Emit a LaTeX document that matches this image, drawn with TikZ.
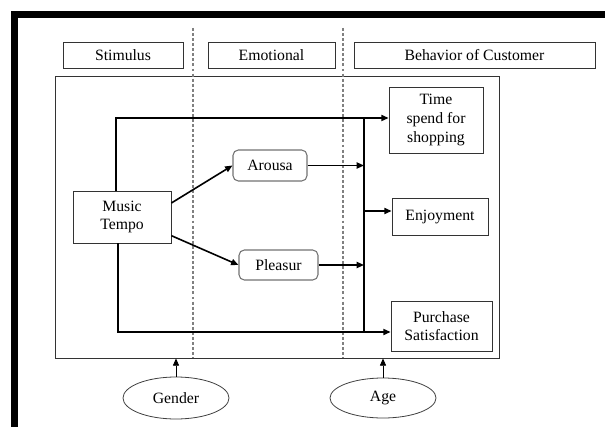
\documentclass[tikz,border=0pt]{standalone}
\usepackage{fontspec}
\setmainfont{Liberation Serif}
\usetikzlibrary{arrows.meta,shapes.geometric,calc}
\begin{document}
\begin{tikzpicture}[x=0.75pt,y=-0.75pt,
  font=\fontsize{11.8}{14}\selectfont,
  hbox/.style={draw=black!80,line width=0.6pt,rectangle,inner sep=0pt,align=center},
  rbox/.style={draw=black!55,line width=0.8pt,rectangle,rounded corners=4pt,inner sep=0pt,align=center},
  oval/.style={draw=black!75,line width=0.6pt,ellipse,inner sep=0pt},
  conn/.style={line width=1.2pt,black},
  arr/.style={conn,-{Triangle[length=5.5pt,width=4.6pt]}},
  thinarr/.style={line width=0.7pt,-{Triangle[length=5.5pt,width=4.6pt]}},
  sep/.style={draw=black!50,line width=0.8pt,dash pattern=on 2.2pt off 1.6pt}]
\useasboundingbox (0,0) rectangle (605,427);
\fill[white] (0,0) rectangle (605,427);
% outer thick border (top and left)
\fill[black] (11,11) rectangle (605,18);
\fill[black] (11,11) rectangle (18,427);
% header boxes
\node[hbox,minimum width=120*0.75pt,minimum height=26*0.75pt] (stim) at (123,55) {Stimulus};
\node[hbox,minimum width=127*0.75pt,minimum height=26*0.75pt] (emo) at (271.5,55) {Emotional};
\node[hbox,minimum width=241*0.75pt,minimum height=26*0.75pt] (beh) at (474.5,55) {Behavior of Customer};
% frame
\node[draw=black!80,line width=0.6pt,rectangle,minimum width=444*0.75pt,minimum height=282*0.75pt] (frame) at (277,217) {};
% dashed separators
\coordinate (d1t) at (193,28);
\coordinate (d1b) at (193,358);
\coordinate (d2t) at (343,28);
\coordinate (d2b) at (343,358);
\draw[sep] (d1t) -- (d1b);
\draw[sep] (d2t) -- (d2b);
% nodes
\node[hbox,fill=white,minimum width=98*0.75pt,minimum height=52*0.75pt] (music) at (122,217) {Music\\Tempo};
\node[rbox,fill=white,minimum width=74*0.75pt,minimum height=31*0.75pt] (arousa) at (270,165.5) {Arousa};
\node[rbox,fill=white,minimum width=79*0.75pt,minimum height=30*0.75pt] (pleasur) at (278.5,265) {Pleasur};
\node[hbox,minimum width=94*0.75pt,minimum height=66*0.75pt] (time) at (436,120) {Time\\spend for\\shopping};
\node[hbox,minimum width=96*0.75pt,minimum height=37*0.75pt] (enjoy) at (440,216.5) {Enjoyment};
\node[hbox,minimum width=101*0.75pt,minimum height=50*0.75pt] (purch) at (441.5,326) {Purchase\\Satisfaction};
\node[oval,minimum width=106*0.75pt,minimum height=42*0.75pt] (gender) at (176,398) {Gender};
\node[oval,minimum width=106*0.75pt,minimum height=40*0.75pt] (age) at (383,398) {Age};
% connector coordinates
\coordinate (tl) at (116,118);
\coordinate (bl) at (118,332);
\coordinate (bt) at (364,118);
\coordinate (bb) at (364,332);
\coordinate (ej) at (364,211);
% connectors
\draw[arr] (music.north -| tl) |- (time.west |- tl);
\draw[arr] (music.south -| bl) |- (purch.west |- bl);
\draw[conn] (bt) -- (bb);
\draw[arr] (arousa.east) -- (arousa.east -| bt);
\draw[arr] (pleasur.east) -- (pleasur.east -| bt);
\draw[arr] (ej) -- (enjoy.west |- ej);
\draw[arr] ([yshift=10.5pt]music.east) -- (arousa.west);
\draw[arr] ([yshift=-14pt]music.east) -- (pleasur.west);
\draw[thinarr] (gender.north) -- (gender.north |- frame.south);
\draw[thinarr] (age.north) -- (age.north |- frame.south);
\end{tikzpicture}
\end{document}
